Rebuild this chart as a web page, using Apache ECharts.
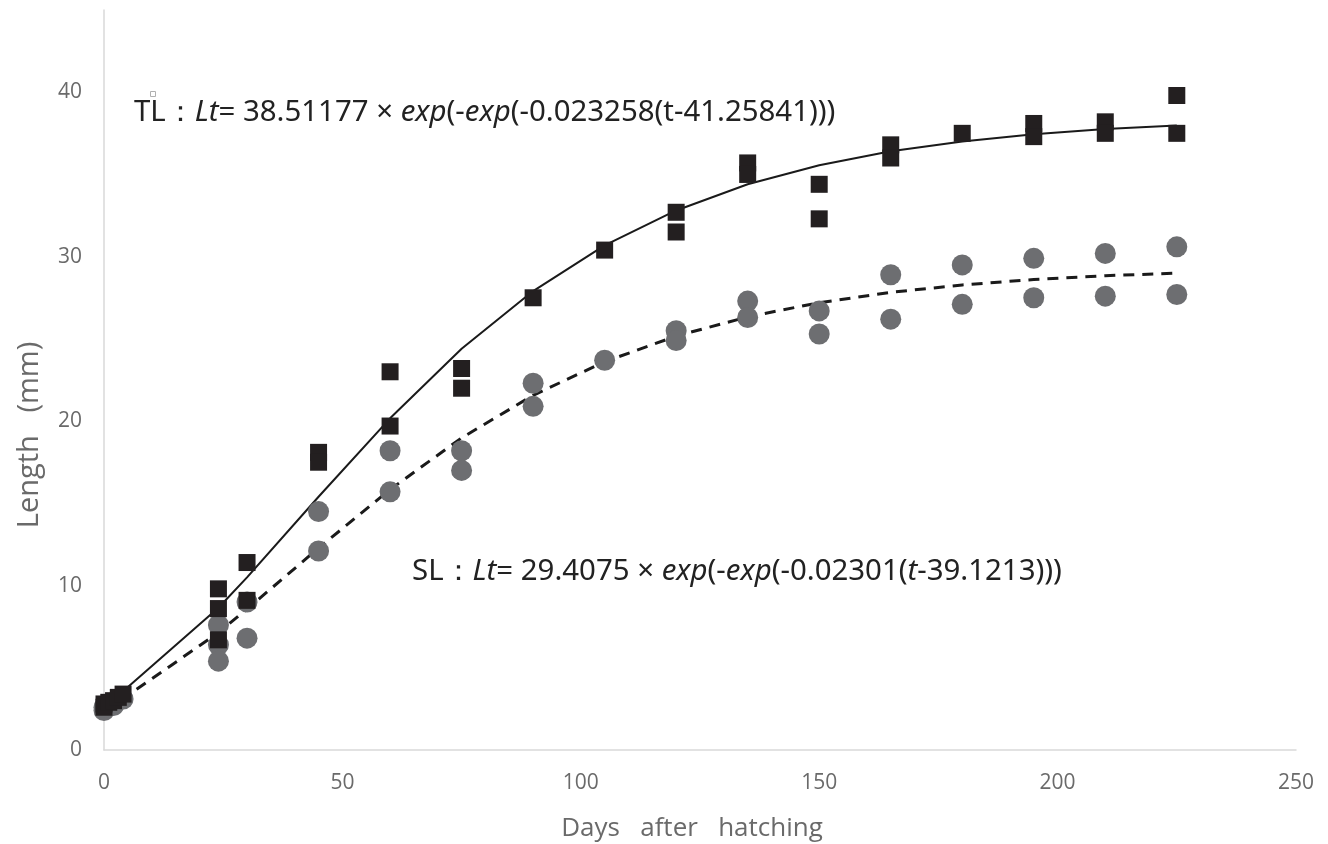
<!DOCTYPE html>
<html>
<head>
<meta charset="utf-8">
<script src="https://cdn.jsdelivr.net/npm/echarts@6/dist/echarts.min.js"></script>
<style>
html,body{margin:0;padding:0;background:#fff;}
#c{width:1328px;height:844px;}
</style>
</head>
<body>
<div id="c"></div>
<script>
// Observed total length (TL) points: [day, mm]
const tlPoints = [
  [0, 2.8], [0, 2.6], [1, 2.9], [2, 3.0], [3, 3.2], [4, 3.4],
  [24, 9.8], [24, 8.6], [24, 6.7],
  [30, 11.4], [30, 9.1],
  [45, 18.1], [45, 17.5],
  [60, 23.0], [60, 19.7],
  [75, 23.2], [75, 22.0],
  [90, 27.5],
  [105, 30.4],
  [120, 32.7], [120, 31.5],
  [135, 35.7], [135, 35.0],
  [150, 34.4], [150, 32.3],
  [165, 36.8], [165, 36.0],
  [180, 37.5],
  [195, 38.1], [195, 37.3],
  [210, 38.2], [210, 37.5],
  [225, 39.8], [225, 37.5]
];
// Observed standard length (SL) points
const slPoints = [
  [0, 2.4], [0, 2.6], [2, 2.7], [4, 3.1],
  [24, 7.6], [24, 6.4], [24, 5.4],
  [30, 9.0], [30, 6.8],
  [45, 14.5], [45, 12.1],
  [60, 18.2], [60, 15.7],
  [75, 18.2], [75, 17.0],
  [90, 22.3], [90, 20.9],
  [105, 23.7],
  [120, 25.5], [120, 24.9],
  [135, 27.3], [135, 26.3],
  [150, 26.7], [150, 25.3],
  [165, 28.9], [165, 26.2],
  [180, 29.5], [180, 27.1],
  [195, 29.9], [195, 27.5],
  [210, 30.2], [210, 27.6],
  [225, 30.6], [225, 27.7]
];
// Fitted Gompertz curve values read at sampling days
const curveDays = [0, 2, 4, 24, 30, 45, 60, 75, 90, 105, 120, 135, 150, 165, 180, 195, 210, 225];
const tlFit = [2.83, 3.19, 3.57, 8.65, 10.50, 15.40, 20.17, 24.40, 27.91, 30.69, 32.81, 34.40, 35.56, 36.41, 37.01, 37.45, 37.76, 37.98];
const slFit = [2.51, 2.81, 3.12, 7.14, 8.57, 12.28, 15.84, 18.98, 21.57, 23.61, 25.17, 26.34, 27.20, 27.83, 28.28, 28.61, 28.84, 29.00];
const xTicks = [0, 50, 100, 150, 200, 250];
const yTicks = [0, 10, 20, 30, 40];
const xTitle = 'Days   after   hatching';
const yTitle = 'Length   (mm)';

const chart = echarts.init(document.getElementById('c'));
const axisFont = 'Open Sans, Noto Sans, sans-serif';
const eqFont = 'Noto Sans, Open Sans, sans-serif';

chart.setOption({
  animation: false,
  backgroundColor: '#fff',
  grid: { left: 104, right: 32, top: 10, bottom: 94, containLabel: false },
  xAxis: {
    type: 'value', min: 0, max: 250, interval: 50,
    axisLine: { show: true, lineStyle: { color: '#d9d9d9', width: 1.5 } },
    axisTick: { show: false },
    splitLine: { show: false },
    axisLabel: { color: '#6a6a6a', fontSize: 21, fontFamily: axisFont, margin: 23,
      formatter: v => xTicks.includes(v) ? String(v) : '' }
  },
  yAxis: {
    type: 'value', min: 0, max: 45, interval: 10,
    axisLine: { show: true, lineStyle: { color: '#d9d9d9', width: 1.5 } },
    axisTick: { show: false },
    splitLine: { show: false },
    axisLabel: { color: '#6a6a6a', fontSize: 21, fontFamily: axisFont, margin: 22, showMaxLabel: false,
      formatter: v => yTicks.includes(v) ? String(v) : '' }
  },
  graphic: [
    { type: 'text', x: 692, y: 829,
      style: { text: xTitle, fill: '#6a6a6a', font: '26px ' + axisFont, align: 'center', verticalAlign: 'middle' } },
    { type: 'text', x: 30, y: 435, rotation: Math.PI / 2,
      style: { text: yTitle, fill: '#6a6a6a', font: '29px ' + axisFont, align: 'center', verticalAlign: 'middle' } },
    { type: 'rect', shape: { x: 150.5, y: 91.5, width: 5, height: 5 },
      style: { fill: 'none', stroke: '#b0b0b0', lineWidth: 1 } },
    { type: 'text', x: 134, y: 113,
      style: {
        text: 'TL：{i|Lt}= 38.51177 × {i|exp}(-{i|exp}(-0.023258(t-41.25841)))',
        fill: '#222', font: '29.4px ' + eqFont, verticalAlign: 'middle',
        rich: { i: { fontStyle: 'italic', fontSize: 29.4, fontFamily: eqFont, fill: '#222' } }
      } },
    { type: 'text', x: 412, y: 572,
      style: {
        text: 'SL：{i|Lt}= 29.4075 × {i|exp}(-{i|exp}(-0.02301({i|t}-39.1213)))',
        fill: '#222', font: '29.4px ' + eqFont, verticalAlign: 'middle',
        rich: { i: { fontStyle: 'italic', fontSize: 29.4, fontFamily: eqFont, fill: '#222' } }
      } }
  ],
  series: [
    { type: 'line', data: curveDays.map((d, i) => [d, tlFit[i]]), symbol: 'none',
      lineStyle: { color: '#1a1a1a', width: 2 }, z: 1 },
    { type: 'line', data: curveDays.map((d, i) => [d, slFit[i]]), symbol: 'none',
      lineStyle: { color: '#1a1a1a', width: 3, type: [11, 8] }, z: 1 },
    { type: 'scatter', data: slPoints, symbol: 'circle', symbolSize: 21,
      itemStyle: { color: '#6d6e71', opacity: 1 }, z: 2 },
    { type: 'scatter', data: tlPoints, symbol: 'rect', symbolSize: 17,
      itemStyle: { color: '#231f20', opacity: 1 }, z: 3 }
  ]
});
</script>
</body>
</html>
